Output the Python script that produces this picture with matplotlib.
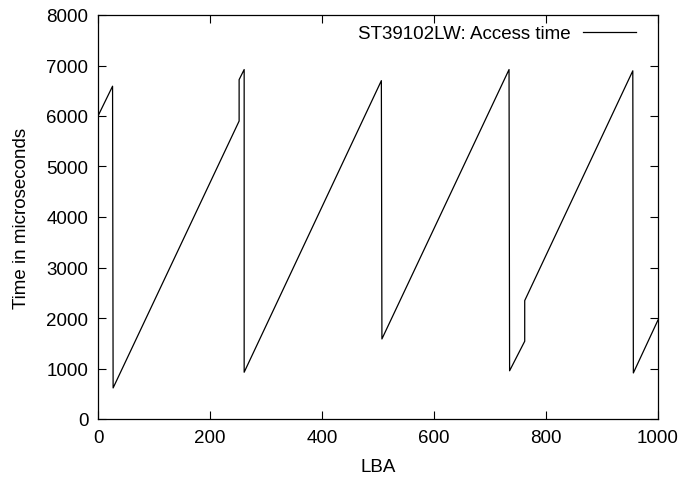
import matplotlib
matplotlib.use("Agg")
from matplotlib import pyplot as plt

plt.rcParams['font.family'] = ['Liberation Sans', 'DejaVu Sans']

# points
lba = [0, 26, 27, 252, 252, 261, 261, 506, 507, 734, 735, 762, 762, 955, 956, 1000]
access_us = [6000, 6590, 615, 5900, 6720, 6920, 926, 6700, 1585, 6920, 955, 1540, 2345, 6895, 912, 1960]

fig = plt.figure(figsize=(6.83, 4.81), dpi=100)
ax = fig.add_axes([98 / 683, 1 - 420 / 481, 560 / 683, 404 / 481])

ax.plot(lba, access_us, color='black', linewidth=0.9, label='ST39102LW: Access time')

ax.set_xlim(0, 1000)
ax.set_ylim(0, 8000)
ax.set_xticks(range(0, 1001, 200))
ax.set_yticks(range(0, 8001, 1000))
ax.tick_params(direction='in', top=True, right=True, labelsize=13.5, length=6, width=0.8, pad=7)
for s in ax.spines.values():
    s.set_linewidth(0.9)

ax.set_xlabel("LBA", fontsize=13.5, labelpad=9)
ax.set_ylabel("Time in microseconds", fontsize=13.5, labelpad=12)

ax.legend(loc='upper right', frameon=False, markerfirst=False, fontsize=13.5,
          handlelength=2.8, borderaxespad=0.3, handletextpad=0.7,
          bbox_to_anchor=(1 - 9 / 560, 1 + 3 / 404))

fig.savefig("out.png", dpi=100)
